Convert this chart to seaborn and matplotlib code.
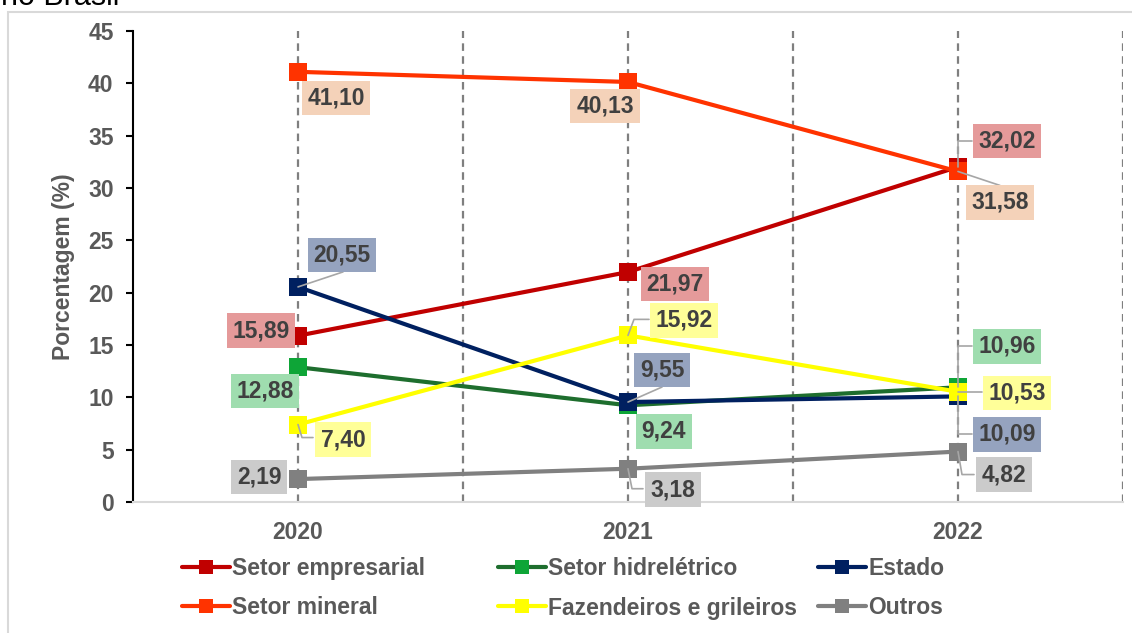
import numpy as np
import pandas as pd
import seaborn as sns
import matplotlib
matplotlib.use("Agg")
import matplotlib.pyplot as plt
import matplotlib.transforms as mtransforms
from matplotlib.patches import Rectangle
from matplotlib.lines import Line2D

# ---------------- data ----------------
years = ["2020", "2021", "2022"]
setor_empresarial = [15.89, 21.97, 32.02]
setor_hidreletrico = [12.88, 9.24, 10.96]
estado = [20.55, 9.55, 10.09]
setor_mineral = [41.10, 40.13, 31.58]
fazendeiros_grileiros = [7.40, 15.92, 10.53]
outros = [2.19, 3.18, 4.82]
series_names = ["Setor empresarial", "Setor hidrelétrico", "Estado",
                "Setor mineral", "Fazendeiros e grileiros", "Outros"]
y_ticks = [0, 5, 10, 15, 20, 25, 30, 35, 40, 45]
y_label = "Porcentagem (%)"
title_fragment = "no Brasil"

values = {
    "Setor empresarial": setor_empresarial,
    "Setor hidrelétrico": setor_hidreletrico,
    "Estado": estado,
    "Setor mineral": setor_mineral,
    "Fazendeiros e grileiros": fazendeiros_grileiros,
    "Outros": outros,
}

# ---------------- styles ----------------
line_colors = {
    "Setor empresarial": "#C00000",
    "Setor hidrelétrico": "#1E6E2E",
    "Estado": "#002060",
    "Setor mineral": "#FF3300",
    "Fazendeiros e grileiros": "#FFFF00",
    "Outros": "#808080",
}
marker_colors = dict(line_colors)
marker_colors["Setor hidrelétrico"] = "#0EA537"
box_colors = {
    "Setor empresarial": "#E59A9A",
    "Setor hidrelétrico": "#9FDDAF",
    "Estado": "#95A3BF",
    "Setor mineral": "#F4D2B9",
    "Fazendeiros e grileiros": "#FFFF99",
    "Outros": "#CBCBCB",
}
# label box centre offsets in pixels (dx right, dy down) + optional leader path
label_pos = {
    ("Setor mineral", 0): (38, 26, None),
    ("Setor mineral", 1): (-23, 24, None),
    ("Setor mineral", 2): (42, 31, [(0, 0), (42, 14)]),
    ("Setor empresarial", 0): (-37, -5, None),
    ("Setor empresarial", 1): (47, 12, None),
    ("Setor empresarial", 2): (49, -26, [(0, 0), (0, -26), (14, -26)]),
    ("Estado", 0): (44, -32, [(0, 0), (45, -15)]),
    ("Estado", 1): (34, -32, [(0, 0), (34, -15)]),
    ("Estado", 2): (49, 38, [(0, 0), (0, 38), (14, 38)]),
    ("Setor hidrelétrico", 0): (-33, 24, None),
    ("Setor hidrelétrico", 1): (36, 26, None),
    ("Setor hidrelétrico", 2): (49, -41, [(0, 0), (0, -41), (14, -41)]),
    ("Fazendeiros e grileiros", 0): (45, 15, [(0, 0), (4, 13), (15, 13)]),
    ("Fazendeiros e grileiros", 1): (56, -15, [(0, 0), (6, -16), (21, -16)]),
    ("Fazendeiros e grileiros", 2): (59, 1, [(0, 0), (24, 0)]),
    ("Outros", 0): (-39, -2, None),
    ("Outros", 1): (45, 21, [(0, 0), (4, 20), (15, 20)]),
    ("Outros", 2): (46, 23, [(0, 0), (4, 23), (16, 23)]),
}

W, H = 1132, 633
FS = 16.5
TICK_GRAY = "#595959"
TEXT_DARK = "#404040"

sns.set_theme(style="white")
plt.rcParams["font.family"] = ["Liberation Sans", "DejaVu Sans"]

fig = plt.figure(figsize=(W / 100, H / 100), dpi=100)
fig.patch.set_facecolor("white")
ax = fig.add_axes([133 / W, 1 - 502 / H, (1123 - 133) / W, (502 - 31) / H])

rows = []
for name in series_names:
    for i, yv in enumerate(years):
        rows.append({"serie": name, "pos": i, "ano": yv, "valor": values[name][i]})
df = pd.DataFrame(rows)

handles = {}
for k, name in enumerate(series_names):
    sub = df[df["serie"] == name]
    sns.lineplot(data=sub, x="pos", y="valor", ax=ax, color=line_colors[name],
                 linewidth=3, marker="s", markersize=12.5,
                 markerfacecolor=marker_colors[name],
                 markeredgecolor=marker_colors[name], markeredgewidth=0,
                 errorbar=None, legend=False, zorder=3 + k * 0.01)
    handles[name] = Line2D([], [], color=line_colors[name], linewidth=3,
                           marker="s", markersize=10,
                           markerfacecolor=marker_colors[name],
                           markeredgecolor=marker_colors[name], markeredgewidth=0,
                           solid_capstyle="round")

ax.set_xlim(-0.5, 2.5)
ax.set_ylim(0, 45)
ax.set_yticks(y_ticks)
ax.set_yticklabels([str(t) for t in y_ticks])
ax.set_xticks(range(len(years)))
ax.set_xticklabels(years)
ax.set_xticks([0.5, 1.5, 2.5], minor=True)
ax.set_xlabel("")
ax.set_ylabel(y_label, fontsize=FS, fontweight="bold", color=TICK_GRAY, labelpad=9)

ax.grid(True, which="both", axis="x", color="#7F7F7F", linewidth=1.6,
        linestyle=(0, (3.4, 2.4)))
ax.grid(False, axis="y")
ax.set_axisbelow(True)

for s in ["top", "right"]:
    ax.spines[s].set_visible(False)
ax.spines["left"].set_color("black")
ax.spines["left"].set_linewidth(1.5)
ax.spines["bottom"].set_color("#D9D9D9")
ax.spines["bottom"].set_linewidth(1.5)

ax.tick_params(axis="y", which="major", length=5, width=1.5, color="black",
               pad=9, labelsize=FS, labelcolor=TICK_GRAY, left=True, direction="out")
ax.tick_params(axis="x", which="both", length=0, pad=14, labelsize=FS,
               labelcolor=TICK_GRAY)
for lab in ax.get_yticklabels() + ax.get_xticklabels():
    lab.set_fontweight("bold")

# data labels
for name in series_names:
    for i in range(len(years)):
        v = values[name][i]
        dx, dy, leader = label_pos[(name, i)]
        txt = f"{v:.2f}".replace(".", ",")
        ax.annotate(txt, xy=(i, v), xytext=(dx, -dy), textcoords="offset pixels",
                    ha="center", va="center", fontsize=FS, fontweight="bold",
                    color=TEXT_DARK, zorder=7, annotation_clip=False,
                    bbox=dict(boxstyle="square,pad=0.25", fc=box_colors[name],
                              ec="none"))
        if leader is not None:
            tr = mtransforms.Affine2D().scale(1, -1) + \
                mtransforms.ScaledTranslation(i, v, ax.transData)
            lx = [p[0] for p in leader]
            ly = [p[1] for p in leader]
            ax.add_line(Line2D(lx, ly, transform=tr, color="#A6A6A6",
                               linewidth=1.2, zorder=6, clip_on=False))

# legend: three columns placed like the original
cols = [["Setor empresarial", "Setor mineral"],
        ["Setor hidrelétrico", "Fazendeiros e grileiros"],
        ["Estado", "Outros"]]
col_x = [182, 498, 818]
for names, xpx in zip(cols, col_x):
    leg = fig.legend([handles[n] for n in names], names, loc="upper left",
                     bbox_to_anchor=(xpx / W, 1 - 557 / H), frameon=False,
                     borderpad=0, borderaxespad=0, handlelength=2.1,
                     handletextpad=0.1, labelspacing=0.72,
                     prop={"size": FS, "weight": "bold"})
    for t in leg.get_texts():
        t.set_color(TICK_GRAY)

# outer frame and cropped title (cropped at the top, as in the original)
fig.patches.append(Rectangle((8 / W, -0.1), 1.2, 1.1 - 12 / H,
                             transform=fig.transFigure, fill=False,
                             ec="#D9D9D9", lw=1.5))
fig.text(1 / W, 1 - 5 / H, title_fragment, fontsize=22, color="black",
         va="baseline", ha="left")

fig.savefig("out.png", dpi=100, facecolor="white")
